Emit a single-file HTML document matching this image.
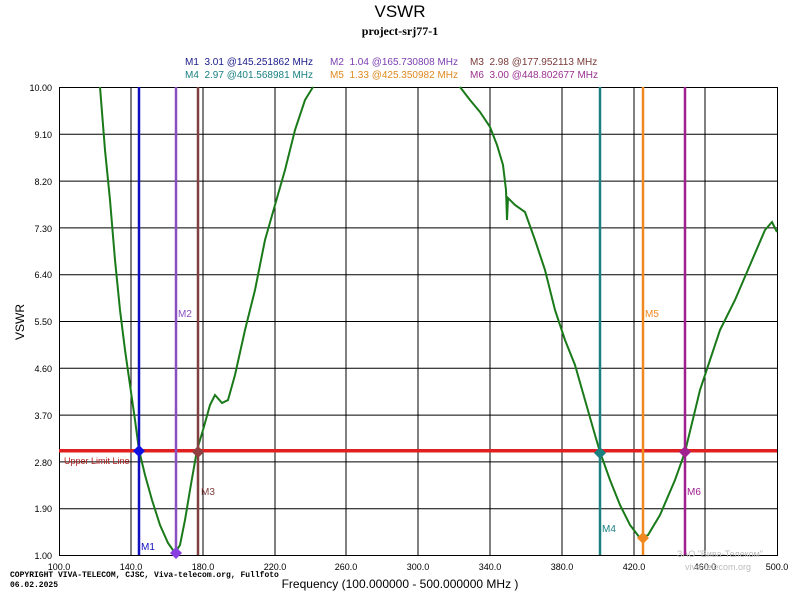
<!DOCTYPE html>
<html><head><meta charset="utf-8"><style>
html,body{margin:0;padding:0;background:#fff;}
svg{display:block;font-family:"Liberation Sans",sans-serif;}
</style></head><body>
<svg width="800" height="600" xmlns="http://www.w3.org/2000/svg">
<rect width="800" height="600" fill="#fff"/>
<text x="400" y="17" text-anchor="middle" font-size="17">VSWR</text>
<text x="400" y="35" text-anchor="middle" font-size="12" font-weight="bold" font-family="Liberation Serif,serif">project-srj77-1</text>
<g font-size="10">
<text x="185" y="65" fill="#1a1a8a">M1 &#160;3.01 @145.251862 MHz</text>
<text x="330" y="65" fill="#7a3fb0">M2 &#160;1.04 @165.730808 MHz</text>
<text x="470" y="65" fill="#7a3a3a">M3 &#160;2.98 @177.952113 MHz</text>
<text x="185" y="78" fill="#1a8080">M4 &#160;2.97 @401.568981 MHz</text>
<text x="330" y="78" fill="#e08a20">M5 &#160;1.33 @425.350982 MHz</text>
<text x="470" y="78" fill="#9a3090">M6 &#160;3.00 @448.802677 MHz</text>
</g>
<g stroke="#000" stroke-width="1">
<rect x="59.5" y="87.5" width="718" height="468" fill="none"/>
<path d="M131 87V555M203 87V555M275 87V555M346 87V555M418 87V555M490 87V555M562 87V555M634 87V555M705 87V555"/>
<path d="M59 134.3H777M59 181.1H777M59 227.9H777M59 274.7H777M59 321.5H777M59 368.3H777M59 415.1H777M59 461.9H777M59 508.7H777"/>
</g>
<g id="yt" stroke="#000"></g>
<g id="xt" stroke="#000"></g>
<g font-size="9" text-anchor="end">
<text x="52" y="91">10.00</text><text x="52" y="138">9.10</text><text x="52" y="185">8.20</text><text x="52" y="232">7.30</text><text x="52" y="278">6.40</text><text x="52" y="325">5.50</text><text x="52" y="372">4.60</text><text x="52" y="419">3.70</text><text x="52" y="466">2.80</text><text x="52" y="512">1.90</text><text x="52" y="559">1.00</text>
</g>
<g font-size="9" text-anchor="middle">
<text x="59" y="570">100.0</text><text x="131" y="570">140.0</text><text x="203" y="570">180.0</text><text x="275" y="570">220.0</text><text x="346" y="570">260.0</text><text x="418" y="570">300.0</text><text x="490" y="570">340.0</text><text x="562" y="570">380.0</text><text x="634" y="570">420.0</text><text x="705" y="570">460.0</text><text x="777" y="570">500.0</text>
</g>
<text x="400" y="588" text-anchor="middle" font-size="12">Frequency (100.000000 - 500.000000 MHz )</text>
<text x="24" y="322" font-size="12" text-anchor="middle" transform="rotate(-90 24 322)">VSWR</text>
<text x="10" y="577" font-size="8" font-family="Liberation Mono,monospace" font-weight="bold">COPYRIGHT VIVA-TELECOM, CJSC, Viva-telecom.org, Fullfoto</text>
<text x="10" y="587" font-size="8" font-family="Liberation Mono,monospace" font-weight="bold">06.02.2025</text>
<g font-size="9" fill="#bbb" text-anchor="middle"><text x="720" y="557">ЗАО "Вива-Телеком"</text><text x="718" y="570">viva-telecom.org</text></g>
<polyline fill="none" stroke="#1a7a1a" stroke-width="2" points="100,87 105,150 110,200 115,260 120,310 125,350 130,385 135,420 139,450 145,475 152,500 160,525 168,543 175,553 180,545 185,520 190,490 197,450 203,430 210,405 215,395 222,403 228,400 235,375 245,330 255,290 265,240 275,205 285,170 295,130 305,100 313,87"/>
<polyline fill="none" stroke="#1a7a1a" stroke-width="2" points="460,87 470,100 480,112 490,127 497,145 503,165 506,190 507,220 508,198 515,205 525,212 535,240 545,270 555,310 565,340 575,365 585,400 595,435 600,452 610,480 620,505 630,525 640,538 648,535 660,515 675,480 685,452 700,390 710,360 720,330 735,300 750,265 765,230 772,222 777,232"/>
<rect x="59" y="449" width="718" height="3.5" fill="#e02020"/>
<text x="64" y="464" font-size="9" fill="#b02020">Upper Limit Line</text>
<g stroke-width="2.5">
<line x1="139" y1="87" x2="139" y2="555" stroke="#1010c0"/>
<line x1="176" y1="87" x2="176" y2="555" stroke="#8a50c0"/>
<line x1="198" y1="87" x2="198" y2="555" stroke="#804040"/>
<line x1="600" y1="87" x2="600" y2="555" stroke="#1a8080"/>
<line x1="643" y1="87" x2="643" y2="555" stroke="#f08a20"/>
<line x1="685" y1="87" x2="685" y2="555" stroke="#a02090"/>
</g>
<g>
<path d="M139 445l6 6-6 6-6-6z" fill="#1010e0"/>
<path d="M176 547l6 6-6 6-6-6z" fill="#8a40e0"/>
<path d="M198 446l6 6-6 6-6-6z" fill="#904040"/>
<path d="M600 447l6 6-6 6-6-6z" fill="#1a8080"/>
<path d="M643 532l6 6-6 6-6-6z" fill="#f08a20"/>
<path d="M685 446l6 6-6 6-6-6z" fill="#a02090"/>
</g>
<g font-size="10">
<text x="141" y="550" fill="#1010c0">M1</text>
<text x="178" y="317" fill="#8a50c0">M2</text>
<text x="201" y="495" fill="#804040">M3</text>
<text x="602" y="532" fill="#1a8080">M4</text>
<text x="645" y="317" fill="#f08a20">M5</text>
<text x="687" y="495" fill="#a02090">M6</text>
</g>
<script>
var yt=document.getElementById('yt'),xt=document.getElementById('xt'),s='';
for(var i=0;i<=50;i++){var y=555-i*9.36;if(i%5)s+='<line x1="59" x2="65" y1="'+y.toFixed(1)+'" y2="'+y.toFixed(1)+'"/>';}
yt.innerHTML=s;s='';
for(var j=0;j<=50;j++){var x=59+j*14.36;if(j%5)s+='<line y1="555" y2="549" x1="'+x.toFixed(1)+'" x2="'+x.toFixed(1)+'"/>';}
xt.innerHTML=s;
</script>
</svg>
</body></html>
